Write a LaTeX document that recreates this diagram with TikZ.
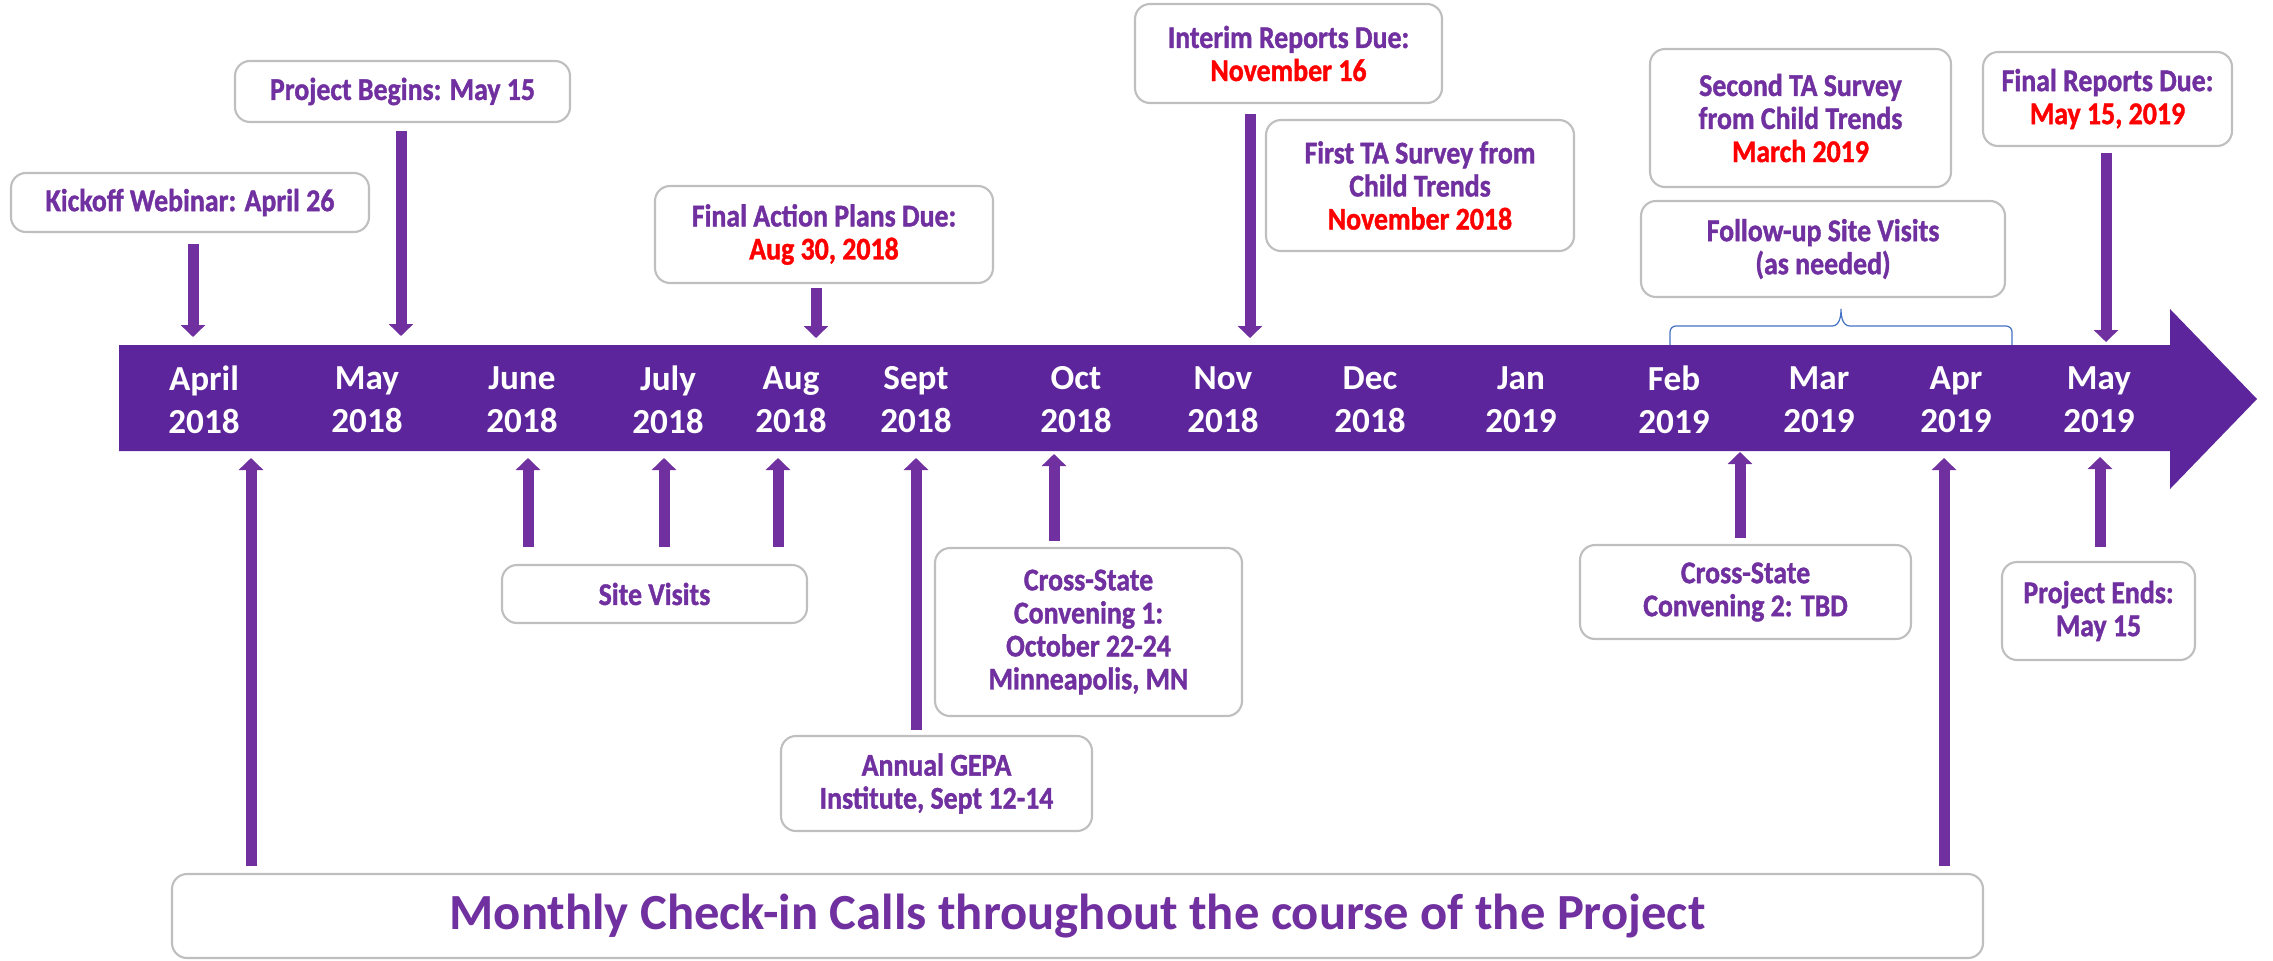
\documentclass[tikz,border=0pt]{standalone}
\usepackage{fontspec}
\setmainfont{Carlito}
\newfontfamily\condfont{Carlito}[FakeStretch=0.88, BoldFeatures={FakeBold=1.2}]
\usepackage{tikz}
\usetikzlibrary{arrows.meta,positioning}
\definecolor{tlband}{RGB}{92,37,155}
\definecolor{tlpurple}{RGB}{112,48,160}
\definecolor{tlgray}{RGB}{191,191,191}
\definecolor{tlred}{RGB}{255,0,0}
\definecolor{tlblue}{RGB}{68,114,196}
\tikzstyle{arrow} = [line width=1.1mm, -{Triangle[length=1.2mm,width=2.4mm]}, color=tlpurple, shorten <=0.8mm]
\tikzstyle{callout} = [rectangle, rounded corners=1.5mm, draw=tlgray, line width=0.6pt, fill=white, align=center, text=tlpurple, font=\condfont\fontsize{9}{9.4}\selectfont\bfseries]
\tikzstyle{month} = [align=center, text=white, font=\fontsize{10}{12.2}\selectfont\bfseries]
\tikzstyle{brace} = [draw=tlblue, line width=0.35pt]

\begin{document}
\begin{tikzpicture}[x=0.1mm,y=-0.1mm]
\useasboundingbox (0,0) rectangle (2273,960);

% timeline band
\fill[tlband] (119,345) -- (2170,345) -- (2170,309) -- (2257,399) -- (2170,489) -- (2170,451) -- (119,451) -- cycle;

\node[month] (apr18) at (204,400) {April\\2018};
\node[month] (may18) at (367,400) {May\\2018};
\node[month] (jun18) at (522,400) {June\\2018};
\node[month] (jul18) at (668,400) {July\\2018};
\node[month] (aug18) at (791,400) {Aug\\2018};
\node[month] (sep18) at (916,400) {Sept\\2018};
\node[month] (oct18) at (1076,400) {Oct\\2018};
\node[month] (nov18) at (1223,400) {Nov\\2018};
\node[month] (dec18) at (1370,400) {Dec\\2018};
\node[month] (jan19) at (1521,400) {Jan\\2019};
\node[month] (feb19) at (1674,400) {Feb\\2019};
\node[month] (mar19) at (1819,400) {Mar\\2019};
\node[month] (apr19) at (1956,400) {Apr\\2019};
\node[month] (may19) at (2099,400) {May\\2019};

% events above the band
\node[callout, minimum width=35.8mm, minimum height=5.9mm] (kickoff) at (190,202.5) {Kickoff Webinar: April 26};
\node[callout, minimum width=33.5mm, minimum height=6.1mm] (begins) at (402.5,91.5) {Project Begins: May 15};
\node[callout, minimum width=33.8mm, minimum height=9.7mm] (action) at (824,234.5) {Final Action Plans Due:\\\textcolor{tlred}{Aug 30, 2018}};
\node[callout, minimum width=30.7mm, minimum height=9.9mm] (interim) at (1288.5,53.5) {Interim Reports Due:\\\textcolor{tlred}{November 16}};
\node[callout, minimum width=30.8mm, minimum height=13.1mm] (survey1) at (1420,185.5) {First TA Survey from\\Child Trends\\\textcolor{tlred}{November 2018}};
\node[callout, minimum width=30.1mm, minimum height=13.8mm] (survey2) at (1800.5,118) {Second TA Survey\\from Child Trends\\\textcolor{tlred}{March 2019}};
\node[callout, minimum width=24.9mm, minimum height=9.4mm] (reports) at (2107.5,99) {Final Reports Due:\\\textcolor{tlred}{May 15, 2019}};
\node[callout, minimum width=36.4mm, minimum height=9.6mm] (followup) at (1823,249) {Follow-up Site Visits\\(as needed)};

% events below the band
\node[callout, minimum width=30.5mm, minimum height=5.8mm] (visits) at (654.5,594) {Site Visits};
\node[callout, minimum width=31.1mm, minimum height=9.5mm] (gepa) at (936.5,783.5) {Annual GEPA\\Institute, Sept 12-14};
\node[callout, minimum width=30.7mm, minimum height=16.8mm] (cross1) at (1088.5,632) {Cross-State\\Convening 1:\\October 22-24\\Minneapolis, MN};
\node[callout, minimum width=33.1mm, minimum height=9.4mm] (cross2) at (1745.5,592) {Cross-State\\Convening 2: TBD};
\node[callout, minimum width=19.3mm, minimum height=9.8mm] (ends) at (2098.5,611) {Project Ends:\\May 15};
\node[callout, minimum width=181.1mm, minimum height=8.4mm, font=\fontsize{14.4}{16}\selectfont\bfseries] (monthly) at (1077.5,916) {Monthly Check-in Calls throughout the course of the Project};

% arrow ends on the band
\coordinate (tkick) at (193,337);
\coordinate (tbegin) at (401,336);
\coordinate (taction) at (816,338);
\coordinate (tinterim) at (1250,338);
\coordinate (treport) at (2106,342);
\coordinate (bvis1) at (528,458);
\coordinate (bvis2) at (664,458);
\coordinate (bvis3) at (778,458);
\coordinate (bgepa) at (916,458);
\coordinate (bcross1) at (1054,454);
\coordinate (bcross2) at (1740,452);
\coordinate (bends) at (2100,457);
\coordinate (bcall1) at (251,458);
\coordinate (bcall2) at (1944,458);

\draw[arrow, shorten <=1.1mm] (kickoff.south -| tkick) -- (tkick);
\draw[arrow] (begins.south -| tbegin) -- (tbegin);
\draw[arrow, shorten <=0.4mm] (action.south -| taction) -- (taction);
\draw[arrow, shorten <=1mm] (interim.south -| tinterim) -- (tinterim);
\draw[arrow, shorten <=0.6mm] (reports.south -| treport) -- (treport);
\draw[arrow, shorten <=1.7mm] (visits.north -| bvis1) -- (bvis1);
\draw[arrow, shorten <=1.7mm] (visits.north -| bvis2) -- (bvis2);
\draw[arrow, shorten <=1.7mm] (visits.north -| bvis3) -- (bvis3);
\draw[arrow, shorten <=0.5mm] (gepa.north -| bgepa) -- (bgepa);
\draw[arrow, shorten <=0.6mm] (cross1.north -| bcross1) -- (bcross1);
\draw[arrow, shorten <=0.6mm] (cross2.north -| bcross2) -- (bcross2);
\draw[arrow, shorten <=1.4mm] (ends.north -| bends) -- (bends);
\draw[arrow, shorten <=0.7mm] (monthly.north -| bcall1) -- (bcall1);
\draw[arrow, shorten <=0.7mm] (monthly.north -| bcall2) -- (bcall2);

% bracket for the follow-up visits
\draw[brace] (1670,345) -- (1670,332) to[out=90,in=180] (1676,326) -- (1832,326) to[out=0,in=-90] (1841,309) to[out=-90,in=180] (1850,326) -- (2006,326) to[out=0,in=90] (2012,332) -- (2012,345);
\end{tikzpicture}
\end{document}
